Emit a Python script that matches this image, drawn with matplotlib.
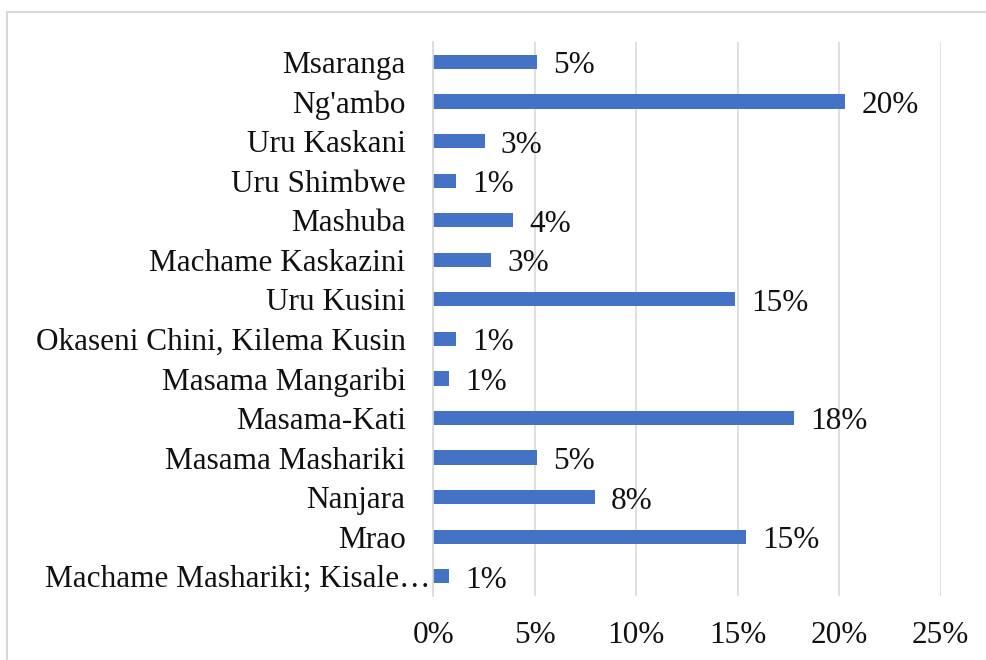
import numpy as np
import matplotlib
matplotlib.use("Agg")
import matplotlib.pyplot as plt
import matplotlib.transforms as mtransforms
from matplotlib.patches import Rectangle

wards = ["Msaranga", "Ng'ambo", "Uru Kaskani", "Uru Shimbwe", "Mashuba",
         "Machame Kaskazini", "Uru Kusini", "Okaseni Chini, Kilema Kusin",
         "Masama Mangaribi", "Masama-Kati", "Masama Mashariki", "Nanjara",
         "Mrao", "Machame Mashariki; Kisale\u2026"]
share = [5.10, 20.29, 2.53, 1.10, 3.95, 2.83, 14.86, 1.10, 0.79, 17.77,
         5.10, 7.95, 15.42, 0.79]
xticks = [0, 5, 10, 15, 20, 25]

plt.rcParams['font.family'] = ['Liberation Serif', 'DejaVu Serif']

fig = plt.figure(figsize=(9.87, 6.6), dpi=100)
ax = fig.add_axes([0.439, 0.097, 0.514, 0.839])

ind = np.arange(len(wards))
bars = ax.barh(ind, share, height=0.36, color='#4472C4', zorder=3)

ax.set_ylim(len(wards) - 0.5, -0.5)
ax.set_xlim(0, 25)
ax.set_yticks(ind)
ax.set_yticklabels(wards, fontsize=22.5, color='#111111')
ax.set_xticks(xticks)
ax.set_xticklabels(['%d%%' % t for t in xticks], fontsize=22.5, color='#111111')
ax.tick_params(axis='y', length=0, pad=20)
ax.tick_params(axis='x', length=0, pad=18)

# long label sits closer to the axis (truncated by the source program)
shift = mtransforms.ScaledTranslation(18 / 72, 0, fig.dpi_scale_trans)
last = ax.get_yticklabels()[-1]
last.set_transform(last.get_transform() + shift)

ax.grid(axis='x', color='#D9D9D9', linewidth=1.2, zorder=0)
for s in ['top', 'right', 'bottom']:
    ax.spines[s].set_visible(False)
ax.spines['left'].set_color('#D9D9D9')
ax.spines['left'].set_linewidth(1.2)
ax.spines['left'].set_zorder(4)

# data labels to the right of each bar
for rect, v in zip(bars, share):
    ax.text(rect.get_width() + 0.8, rect.get_y() + rect.get_height() / 2 + 0.1,
            '%d%%' % round(v), va='center', ha='left', fontsize=22.5,
            color='#111111')

fig.patches.append(Rectangle((7 / 987, -0.02), 1.0, 1.02 - 12 / 660,
                             transform=fig.transFigure, fill=False,
                             edgecolor='#D9D9D9', linewidth=1.5))

plt.savefig('out.png', dpi=100)
